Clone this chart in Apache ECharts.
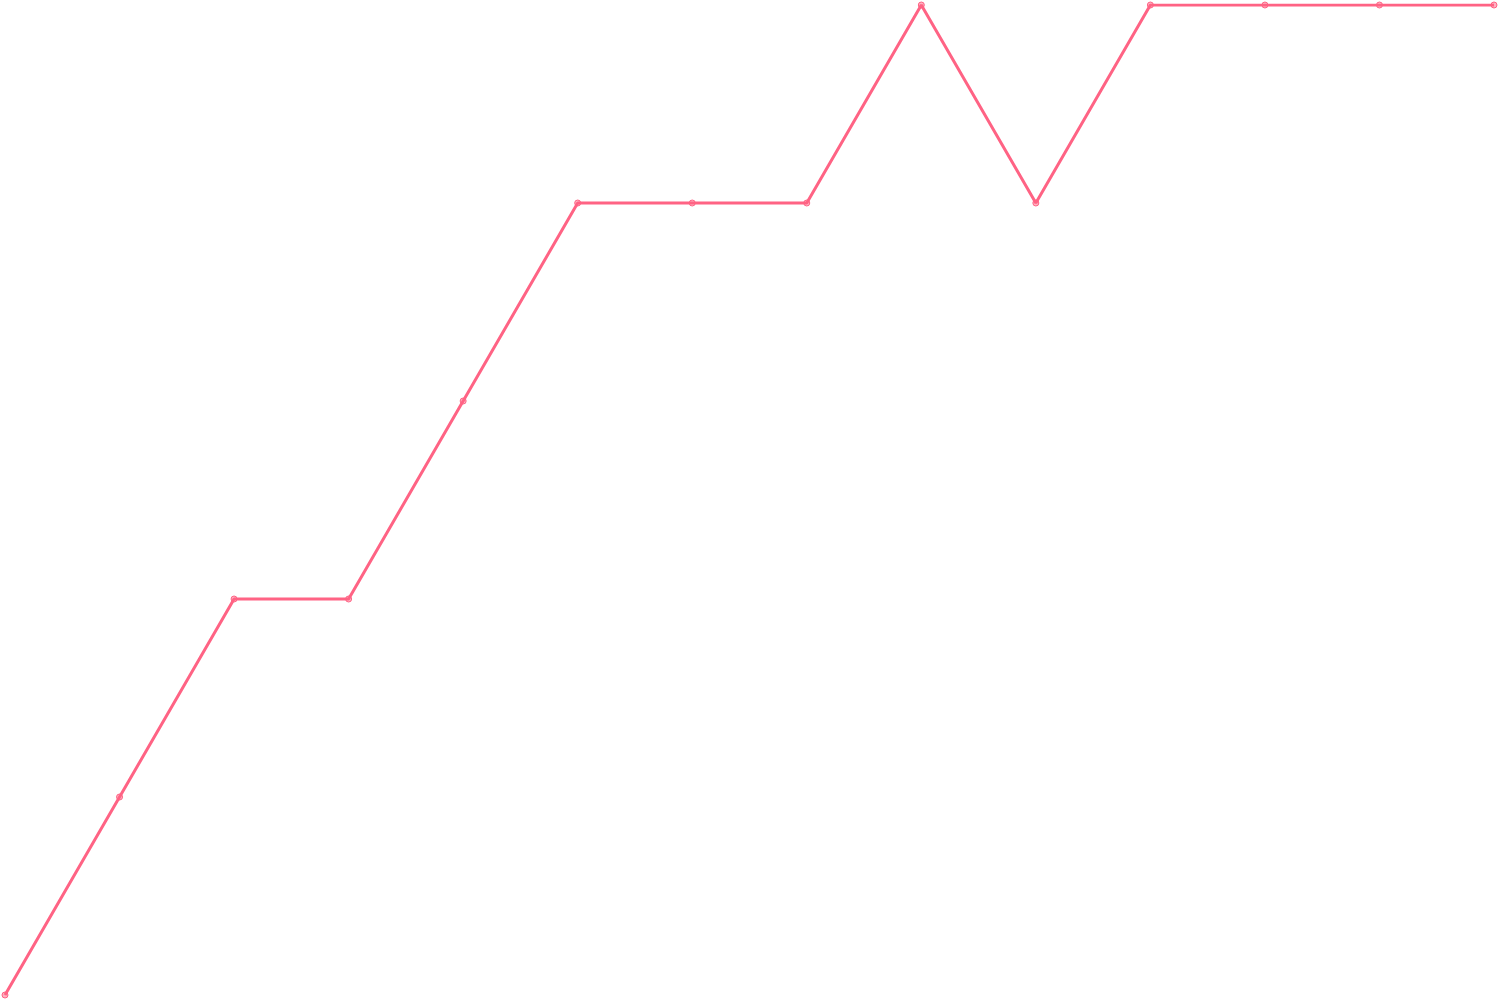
<!DOCTYPE html>
<html>
    <head>
        <meta charset="utf-8">
        <title>line</title>
        <script src="https://cdn.jsdelivr.net/npm/echarts@6/dist/echarts.min.js"></script>
        <style>
            html, body { margin: 0; padding: 0; background: #fff; }
            #chart1 { width: 1500px; height: 1000px; }
        </style>
    </head>
    <body>
        <div id="chart1"></div>
        <script>
            // 横轴类别（图中无标签）
            var categories = ['1', '2', '3', '4', '5', '6', '7', '8', '9', '10', '11', '12', '13', '14'];
            // 折线数值
            var values = [0, 1, 2, 2, 3, 4, 4, 4, 5, 4, 5, 5, 5, 5];

            var myChart1 = echarts.init(document.getElementById('chart1'));
            myChart1.setOption({
                animation: false,
                grid: { left: 5, right: 6, top: 5, bottom: 5 },
                xAxis: {
                    type: 'category',
                    data: categories,
                    boundaryGap: false,
                    show: false
                },
                yAxis: {
                    type: 'value',
                    min: 0,
                    max: 5,
                    show: false
                },
                series: [{
                    type: 'line',
                    data: values,
                    symbol: 'circle',
                    symbolSize: 6,
                    lineStyle: { color: 'rgb(255,99,132)', width: 3 },
                    itemStyle: {
                        color: 'rgba(255,99,132,0.5)',
                        borderColor: 'rgb(255,99,132)',
                        borderWidth: 1
                    }
                }]
            });
        </script>
    </body>
</html>
